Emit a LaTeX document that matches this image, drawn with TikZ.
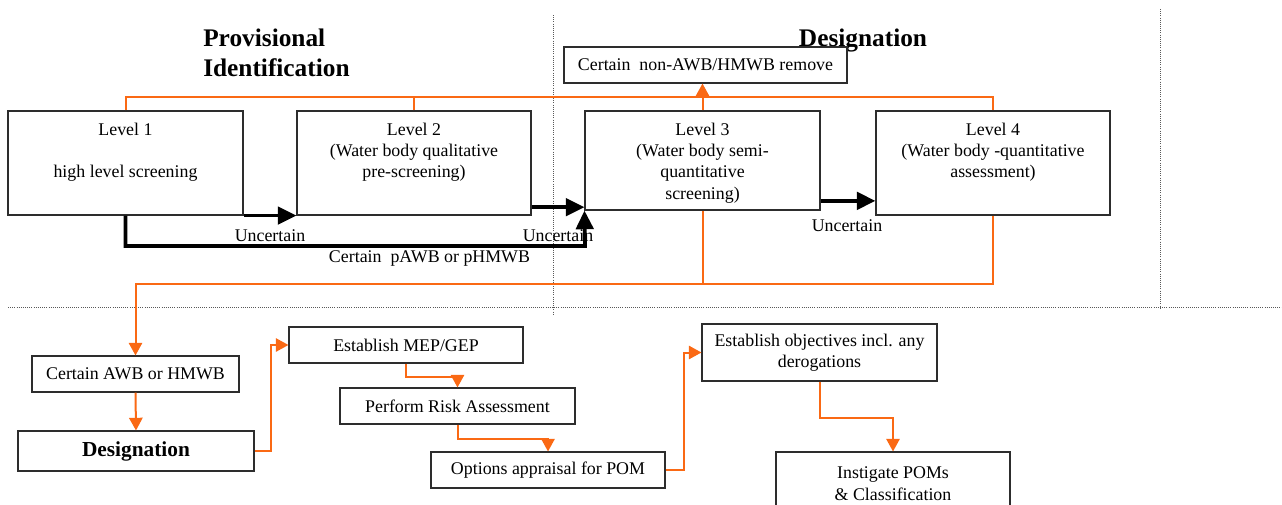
\documentclass[tikz,border=0pt]{standalone}
\usepackage{fontspec}
\setmainfont{Liberation Serif}
\usetikzlibrary{arrows.meta,positioning,calc}
\definecolor{wforange}{RGB}{250,105,20}
\definecolor{wfgray}{RGB}{45,45,45}
\newcommand{\pxu}{0.75pt}
\newcommand{\txtsize}{\fontsize{13.4}{16}\selectfont}
\tikzset{
  bx/.style={draw=wfgray, line width=0.8pt, inner sep=0pt, align=center, font=\txtsize},
  sz/.style 2 args={minimum width=#1*\pxu, minimum height=#2*\pxu},
  lvltx/.style={anchor=north, align=center, inner sep=0pt, font=\txtsize},
  ttl/.style={inner sep=0pt, align=left, font=\fontsize{19}{22.5}\selectfont\bfseries},
  lbl/.style={anchor=base, inner sep=0pt, font=\txtsize},
  blkarr/.style={-{Triangle[length=14pt,width=13pt]}, line width=2.9pt, black},
  orln/.style={wforange, line width=1.5pt},
  orarr/.style={-{Triangle[length=9.5pt,width=10pt]}, wforange, line width=1.5pt},
  sep/.style={densely dotted, gray!70!black, line width=0.6pt},
}

\begin{document}
\begin{tikzpicture}[x=0.75pt, y=-0.75pt]
    \useasboundingbox (0,0) rectangle (1282,504);
    % separators
    \draw[sep] (8,307) -- (1282,307);
    \draw[sep] (553,15) -- (553,314);
    \draw[sep] (1160,9) -- (1160,308);
    % titles
    \node[ttl, anchor=north west] (tprov) at (203,28.5) {Provisional\\Identification};
    \node[ttl, anchor=base] (tdes) at (863,46) {Designation};
    % levels
    \node[bx, sz={235}{104}] (lv1) at (125.5,163) {};
    \node[bx, sz={234}{104}] (lv2) at (414,163) {};
    \node[bx, sz={235}{99}] (lv3) at (702.5,160.5) {};
    \node[bx, sz={234}{104}] (lv4) at (993,163) {};
    \node[lvltx] (lv1t) at ([yshift=-9pt]lv1.north) {Level 1\\[16pt]high level screening};
    \node[lvltx] (lv2t) at ([yshift=-9pt]lv2.north) {Level 2\\(Water body qualitative\\pre-screening)};
    \node[lvltx] (lv3t) at ([yshift=-9pt]lv3.north) {Level 3\\(Water body semi-\\quantitative\\screening)};
    \node[lvltx] (lv4t) at ([yshift=-9pt]lv4.north) {Level 4\\(Water body -quantitative\\assessment)};
    \node[bx, sz={283}{36}] (rm) at (705.5,65) {Certain\ \ non-AWB/HMWB remove};
    % outcome path
    \node[bx, sz={207}{36}] (awb) at (135.5,374) {Certain AWB or HMWB};
    \node[bx, sz={236}{40}, font=\fontsize{16}{19}\selectfont\bfseries] (des) at (136,451) {Designation};
    \node[bx, sz={234}{36}] (mep) at (406,345) {Establish MEP/GEP};
    \node[bx, sz={235}{36}] (risk) at (457.5,406) {Perform Risk Assessment};
    \node[bx, sz={234}{36}] (opt) at (548,470) {Options appraisal for POM};
    \node[bx, sz={235}{57}] (obj) at (819.5,352.5) {Establish objectives incl. any\\derogations};
    \node[bx, sz={234}{63}] (ins) at (893,483.5) {Instigate POMs\\\& Classification};
    % black links
    \coordinate (l3a) at ([yshift=2.5pt]lv3.south west);
    \coordinate (l4a) at ([yshift=11pt]lv4.south west);
    \coordinate (cb) at (585,246);
    \draw[blkarr] (lv1.south east) -- (lv2.south west);
    \draw[blkarr] (lv2.east |- l3a) -- (l3a);
    \draw[blkarr] (lv3.east |- l4a) -- (l4a);
    \draw[blkarr] (lv1.south) |- (cb) -- (lv3.south west);
    \node[lbl] (u1) at (270,241) {Uncertain};
    \node[lbl] (u2) at (558,241) {Uncertain};
    \node[lbl] (u3) at (847,231) {Uncertain};
    \node[lbl] (cert) at (429.5,262) {Certain\ \ pAWB or pHMWB};
    % orange links
    \coordinate (tb) at (0,97);
    \coordinate (bb) at (0,284);
    \draw[orln] (lv1.north) -- (lv1.north |- tb) -- (lv4.north |- tb) -- (lv4.north);
    \draw[orln] (lv2.north) -- (lv2.north |- tb);
    \draw[orarr] (lv3.north) -- (lv3.north |- rm.south);
    \draw[orln] (lv3.south) -- (lv3.south |- bb);
    \draw[orarr] (lv4.south) |- (awb.north |- bb) -- (awb.north);
    \draw[orarr] (awb.south) -- (des.north);
    \draw[orarr] (des.east) -- ++(16,0) |- (mep.west);
    \draw[orarr] (mep.south) -- ++(0,13) -| (risk.north);
    \draw[orarr] (risk.south) -- ++(0,14) -| (opt.north);
    \draw[orarr] (opt.east) -- ++(18,0) |- (obj.west);
    \draw[orarr] (obj.south) -- ++(0,36) -| (ins.north);
\end{tikzpicture}
\end{document}
